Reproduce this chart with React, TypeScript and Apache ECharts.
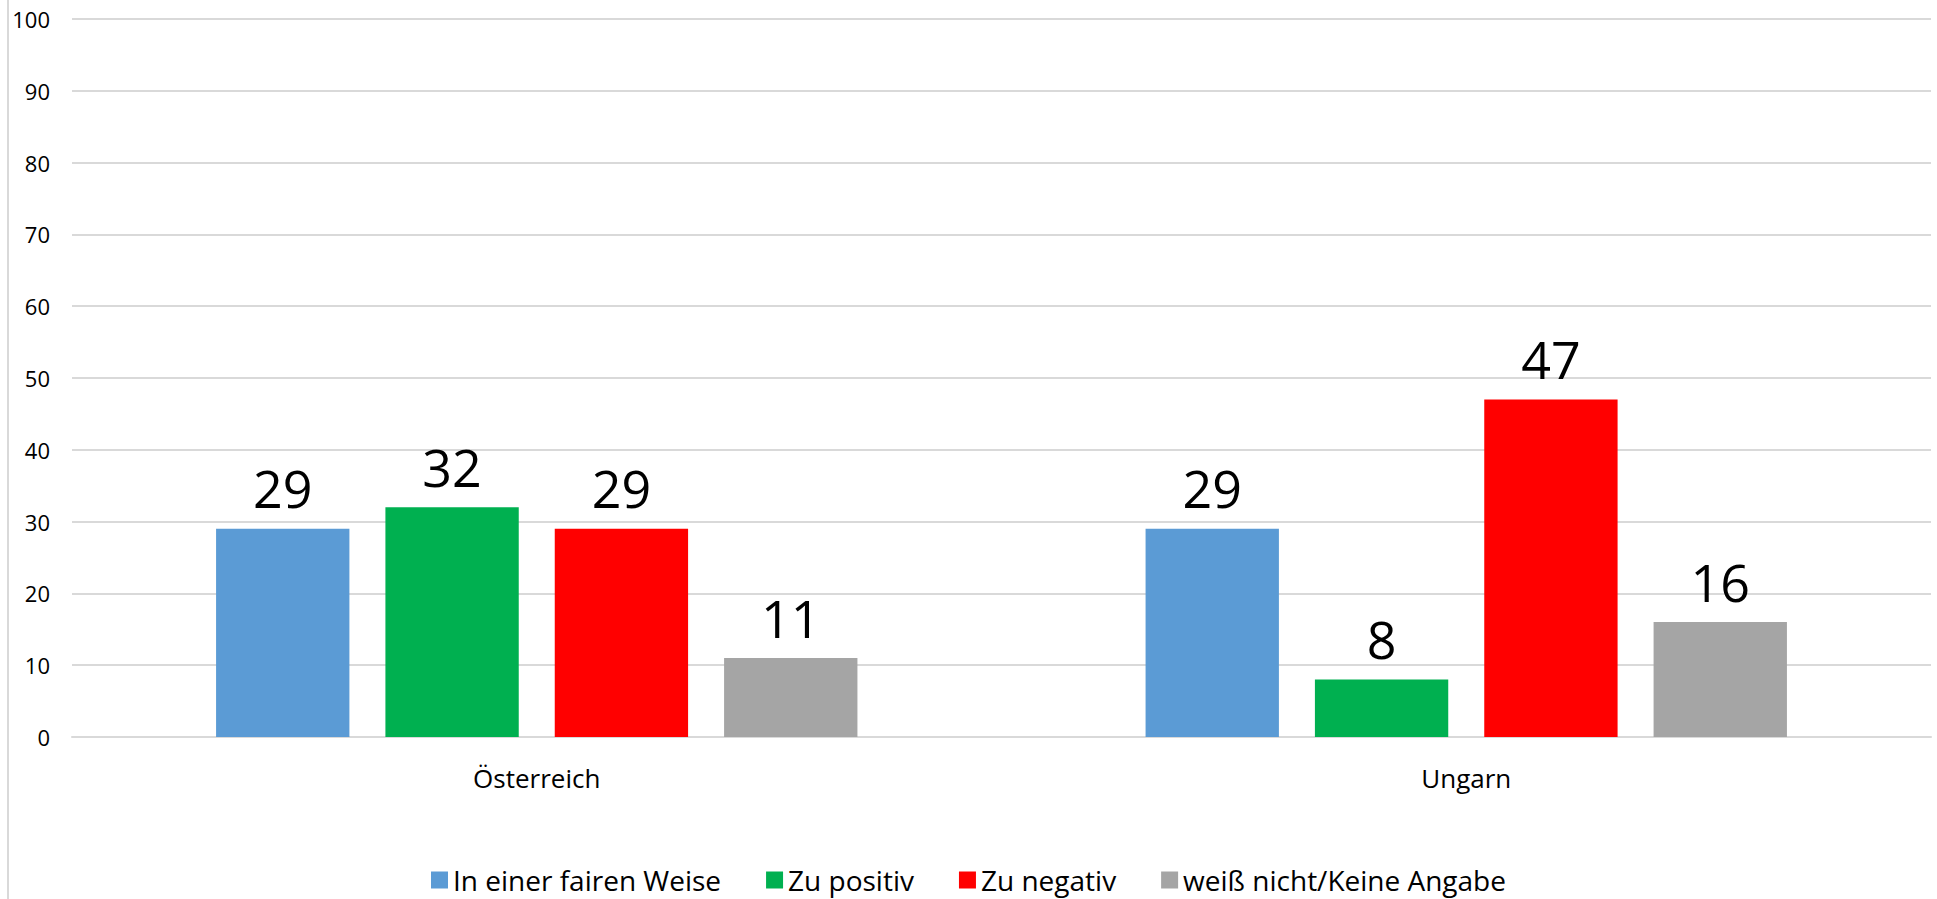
import React, { useEffect, useRef } from "react";
import * as echarts from "echarts";

const categories = ["Österreich", "Ungarn"];
const seriesNames = ["In einer fairen Weise", "Zu positiv", "Zu negativ", "weiß nicht/Keine Angabe"];
const fairValues = [29, 29];
const positivValues = [32, 8];
const negativValues = [29, 47];
const unknownValues = [11, 16];
const colors = ["#5B9BD5", "#00B050", "#FF0000", "#A5A5A5"];

const font = "'Open Sans', sans-serif";

export default function App() {
  const ref = useRef<HTMLDivElement>(null);
  useEffect(() => {
    if (!ref.current) return;
    const chart = echarts.init(ref.current, null, { renderer: "svg" });
    const values = [fairValues, positivValues, negativValues, unknownValues];
    chart.setOption({
      animation: false,
      grid: { left: 72, right: 6, top: 19, bottom: 162, containLabel: false },
      legend: {
        bottom: 0,
        left: "center",
        itemWidth: 17,
        itemHeight: 17,
        itemGap: 45,
        icon: "rect",
        textStyle: { fontFamily: font, fontSize: 28, color: "#000" },
        data: seriesNames,
      },
      xAxis: {
        type: "category",
        data: categories,
        axisLine: { show: true, lineStyle: { color: "#d9d9d9", width: 2 } },
        axisTick: { show: false },
        axisLabel: { fontFamily: font, fontSize: 26, color: "#000", margin: 28 },
      },
      yAxis: {
        type: "value",
        min: 0,
        max: 100,
        interval: 10,
        axisLine: { show: false },
        axisTick: { show: false },
        splitLine: { lineStyle: { color: "#d9d9d9", width: 2 } },
        axisLabel: { fontFamily: font, fontSize: 22, color: "#000", margin: 22 },
      },
      graphic: [
        {
          type: "line",
          shape: { x1: 8, y1: 0, x2: 8, y2: 899 },
          style: { stroke: "#d9d9d9", lineWidth: 2 },
        },
      ],
      series: seriesNames.map((name, i) => ({
        name,
        type: "bar",
        data: values[i],
        barGap: "27%",
        barCategoryGap: "31%",
        itemStyle: { color: colors[i] },
        label: {
          show: true,
          position: "top",
          distance: 15,
          fontFamily: font,
          fontSize: 52,
          color: "#000",
        },
      })),
    });
    return () => chart.dispose();
  }, []);
  return (
    <div
      ref={ref}
      style={{ position: "fixed", left: 0, top: 0, width: 1937, height: 899, background: "#fff" }}
    />
  );
}
